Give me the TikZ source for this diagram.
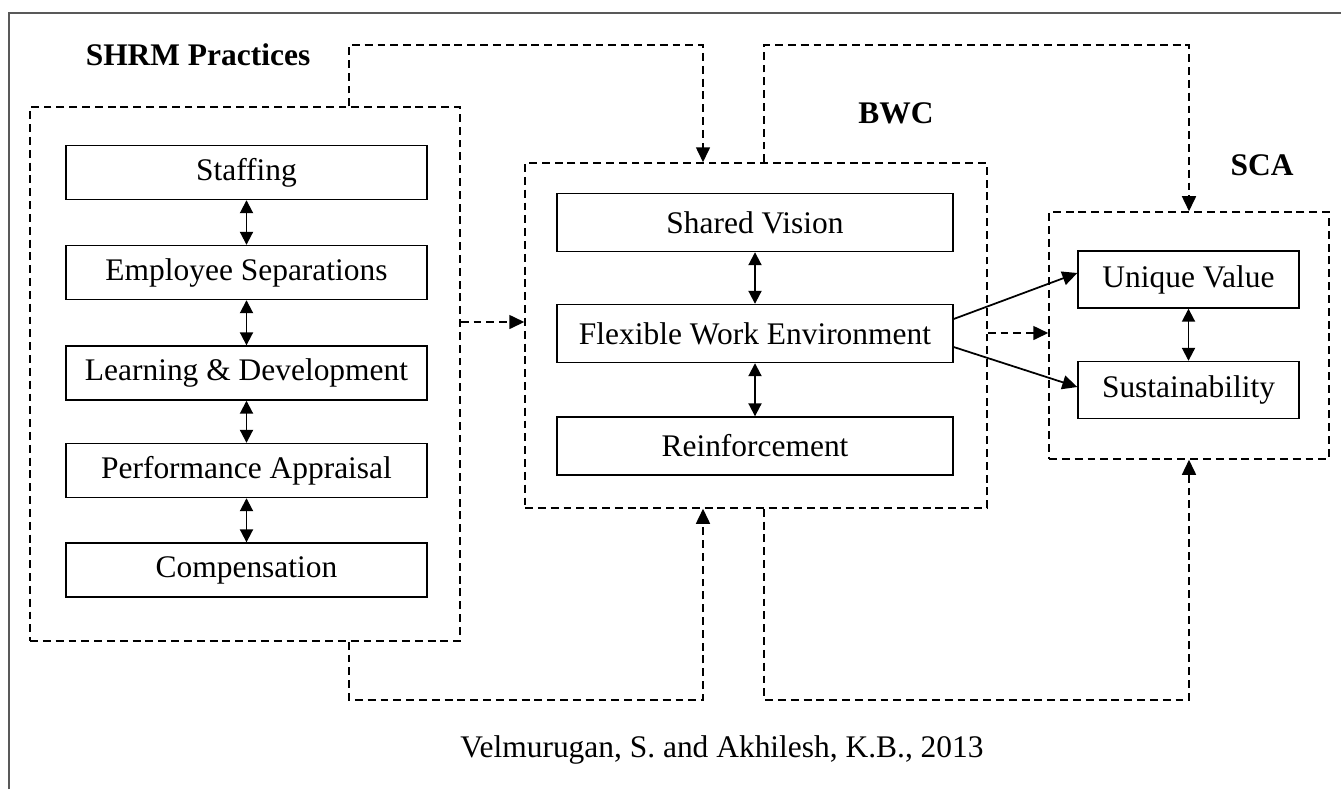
\documentclass[tikz,border=0pt]{standalone}
\usepackage{fontspec}
\setmainfont{Liberation Serif}
\usepackage{tikz}
\usetikzlibrary{arrows.meta}
\tikzstyle{item}=[draw, rectangle, inner sep=0mm, line width=.8pt, minimum height=1.08cm]
\tikzstyle{group}=[draw, rectangle, inner sep=0mm, line width=.9pt, dash pattern=on 4.5pt off 2.8pt]
\tikzstyle{head}=[draw=none, inner sep=0mm, font=\fontsize{17.9}{21}\selectfont\bfseries]
\tikzstyle{dflow}=[line width=.9pt, dash pattern=on 4.5pt off 2.8pt, -{Triangle[length=3mm, width=2.8mm]}]
\tikzstyle{flow}=[line width=1pt, -{Triangle[length=3mm, width=2.8mm]}]
\tikzstyle{twoway}=[line width=1.1pt, {Triangle[length=2.6mm, width=2.6mm]}-{Triangle[length=2.6mm, width=2.6mm]}]

\begin{document}
\begin{tikzpicture}[x=0.02cm, y=-0.02cm, font=\fontsize{17.9}{21}\selectfont]
\useasboundingbox (0,0) rectangle (1341,789);
\draw[line width=1.1pt, color=black!65] (9,789) -- (9,13) -- (1341,13);
% groups
\node[group, minimum width=8.6cm, minimum height=10.68cm] (shrm) at (245,374) {};
\node[group, minimum width=9.24cm, minimum height=6.9cm] (bwc) at (756,335.5) {};
\node[group, minimum width=5.6cm, minimum height=4.94cm] (sca) at (1189,335.5) {};
\node[head] (shrmt) at (198,55) {SHRM Practices};
\node[head] (bwct) at (896,113) {BWC};
\node[head] (scat) at (1262,165) {SCA};
% items
\foreach \n/\y/\t in {1/172.5/Staffing, 2/272.5/Employee Separations, 3/373/Learning \& Development, 4/470.5/Performance Appraisal, 5/570/Compensation}
  \node[item, minimum width=7.22cm] (s\n) at (246.5,\y) {\t};
\foreach \n/\y/\t in {1/222.5/Shared Vision, 2/333.5/Flexible Work Environment, 3/446/Reinforcement}
  \node[item, minimum width=7.92cm, minimum height=1.16cm] (b\n) at (755,\y) {\t};
\foreach \n/\y/\t in {1/279.5/Unique Value, 2/390/Sustainability}
  \node[item, minimum width=4.42cm, minimum height=1.14cm] (c\n) at (1188.5,\y) {\t};
\foreach \f/\t in {s1/s2, s2/s3, s3/s4, s4/s5, b1/b2, b2/b3, c1/c2}
  \draw[twoway] (\f) -- (\t);
% links
\coordinate (u1) at (349,45);
\coordinate (u2) at (703,45);
\coordinate (u3) at (764,45);
\coordinate (u4) at (1189,45);
\coordinate (d1) at (349,700);
\coordinate (d2) at (703,700);
\coordinate (d3) at (764,700);
\coordinate (d4) at (1189,700);
\draw[dflow] (shrm.north -| u1) -- (u1) -- (u2) -- (bwc.north -| u2);
\draw[dflow] (bwc.north -| u3) -- (u3) -- (u4) -- (sca.north -| u4);
\draw[dflow] (shrm.south -| d1) -- (d1) -- (d2) -- (bwc.south -| d2);
\draw[dflow] (bwc.south -| d3) -- (d3) -- (d4) -- (sca.south -| d4);
\draw[dflow] (shrm.east |- 0,322) -- (bwc.west |- 0,322);
\draw[dflow] (bwc.east |- 0,333) -- (sca.west |- 0,333);
\draw[flow] (b2.east |- 0,319) -- (c1.west |- 0,273);
\draw[flow] (b2.east |- 0,347) -- (c2.west |- 0,387);
\node[draw=none] (src) at (722,750) {Velmurugan, S. and Akhilesh, K.B., 2013};
\end{tikzpicture}
\end{document}
